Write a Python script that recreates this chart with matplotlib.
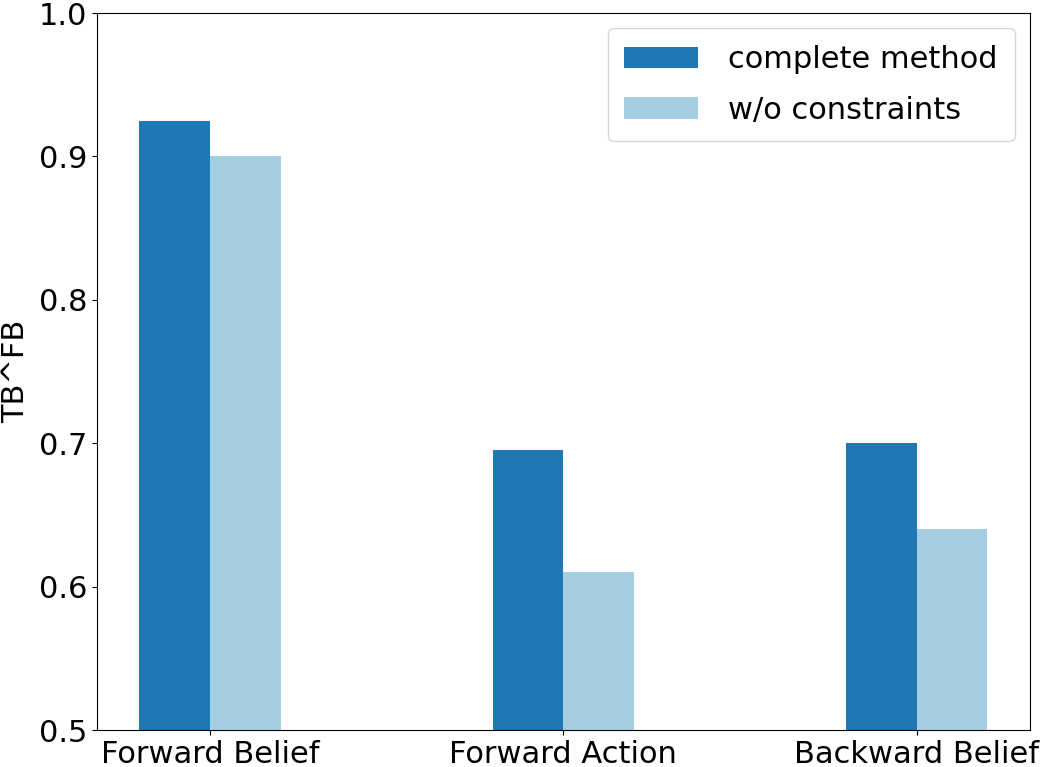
import matplotlib
matplotlib.use("Agg")
import matplotlib.pyplot as plt
import numpy as np

# данные с графика
categories = ['Forward Belief', 'Forward Action', 'Backward Belief']
complete_method = [0.925, 0.695, 0.70]
wo_constraints = [0.90, 0.61, 0.64]

fig = plt.figure(figsize=(10.53, 7.67), dpi=100)
ax = fig.add_subplot(111)
fig.subplots_adjust(left=0.092, right=0.978, top=0.983, bottom=0.048)

x = np.arange(len(categories))
w = 0.2
ax.bar(x - w / 2, complete_method, w, color='#1f78b4', label='complete method')
ax.bar(x + w / 2, wo_constraints, w, color='#a6cee3', label='w/o constraints')

ax.set_xticks(x)
ax.set_xticklabels(categories)
ax.set_ylim(0.5, 1.0)
ax.set_ylabel('TB^FB', fontsize=22, labelpad=6)
ax.tick_params(labelsize=22)
ax.legend(loc='upper right', fontsize=22, handlelength=2.4, handletextpad=1.0,
          labelspacing=0.7, borderpad=0.55)

fig.savefig('out.png', dpi=100)
